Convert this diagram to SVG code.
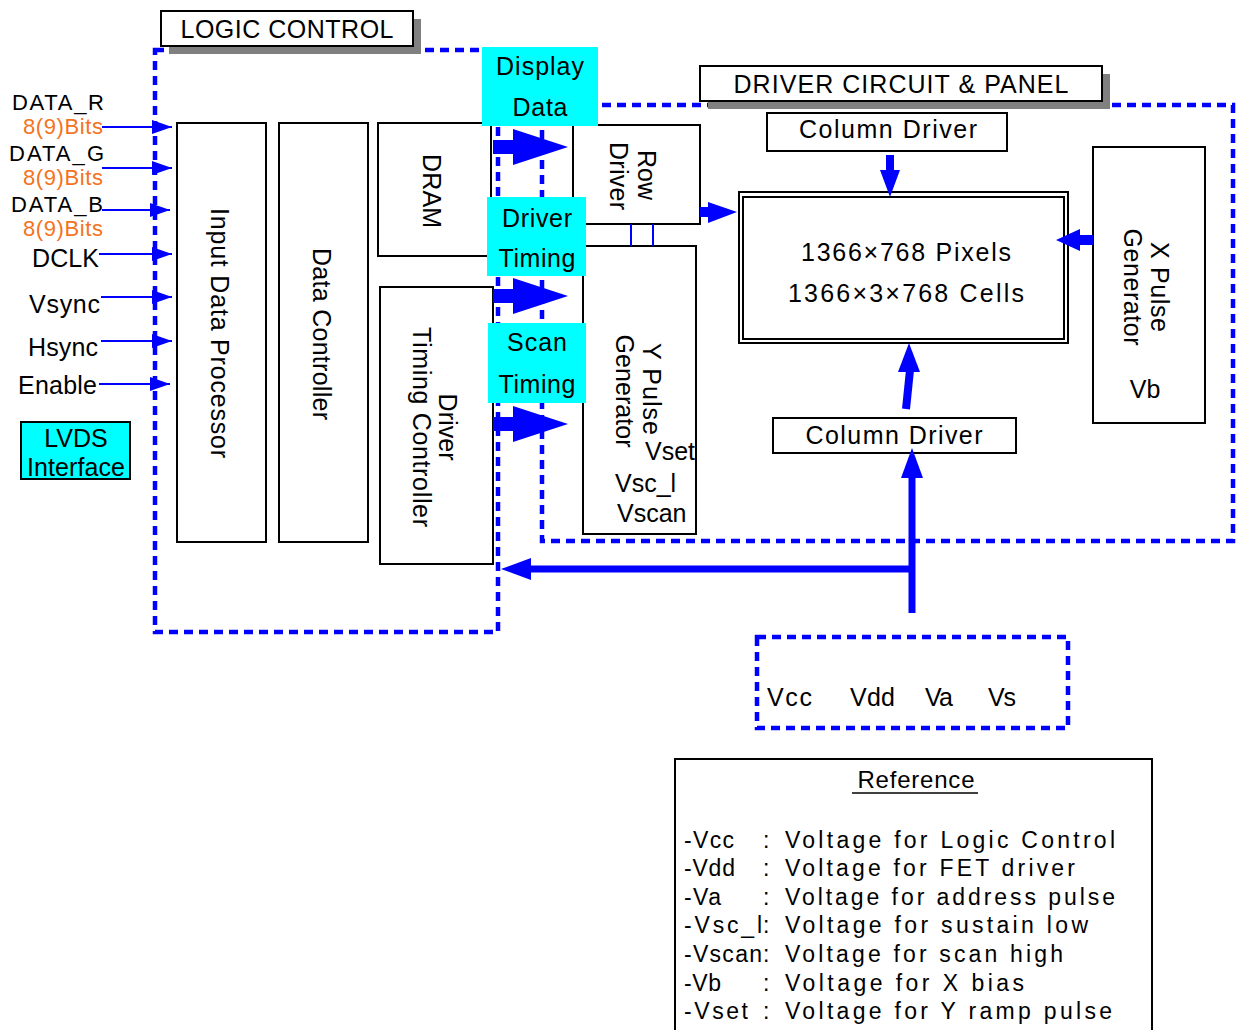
<svg xmlns="http://www.w3.org/2000/svg" width="1239" height="1030" viewBox="0 0 1239 1030">
<style>
.t{font-family:"Liberation Sans",Arial,sans-serif;font-size:25px;fill:#000}
.m{text-anchor:middle}
.e{text-anchor:end}
.box{fill:#fff;stroke:#000;stroke-width:2}
.dash{fill:none;stroke:#00f;stroke-width:4.5;stroke-dasharray:9 6}
.cyan{fill:#0ff}
.shadow{fill:#808080}
.thin{stroke:#00f;stroke-width:2;fill:none}
.blue{fill:#00f}
.or{fill:#F47321}
.sm{font-size:22px}
.ref{font-family:"Liberation Sans",Arial,sans-serif;font-size:23px;fill:#000}
</style>
<defs>
<marker id="ah" markerUnits="userSpaceOnUse" markerWidth="20" markerHeight="14" refX="20" refY="7" orient="auto">
<path d="M0,0 L20,7 L0,14 z" fill="#00f"/>
</marker>
</defs>
<rect width="1239" height="1030" fill="#fff"/>

<!-- logic control blocks -->
<g id="input-data-processor">
<rect class="box" x="177" y="123" width="89" height="419"/>
<text class="t m" transform="translate(220,333) rotate(90)" y="9" textLength="250">Input  Data  Processor</text>
</g>
<g id="data-controller">
<rect class="box" x="279" y="123" width="89" height="419"/>
<text class="t m" transform="translate(322,334) rotate(90)" y="9" textLength="172">Data  Controller</text>
</g>
<g id="dram">
<rect class="box" x="378" y="123" width="113" height="133"/>
<text class="t m" transform="translate(432,191) rotate(90)" y="9" textLength="74">DRAM</text>
</g>
<g id="driver-timing-controller">
<rect class="box" x="380" y="287" width="113" height="277"/>
<text class="t m" transform="translate(448,427) rotate(90)" y="9" textLength="67">Driver</text>
<text class="t m" transform="translate(422,427) rotate(90)" y="9" textLength="200">Timing  Controller</text>
</g>

<!-- driver circuit blocks -->
<g id="row-driver">
<rect class="box" x="573" y="125" width="127" height="99"/>
<text class="t m" transform="translate(647,175) rotate(90)" y="9" textLength="50">Row</text>
<text class="t m" transform="translate(619,176) rotate(90)" y="9" textLength="68">Driver</text>
</g>
<g id="y-pulse-generator">
<rect class="box" x="583" y="246" width="113" height="288"/>
<text class="t m" transform="translate(652,389) rotate(90)" y="9" textLength="92">Y  Pulse</text>
<text class="t m" transform="translate(625,391) rotate(90)" y="9" textLength="113">Generator</text>
<text class="t e" x="695" y="460">Vset</text>
<text class="t" x="615" y="492">Vsc_l</text>
<text class="t" x="617" y="522">Vscan</text>
</g>
<g id="panel">
<rect x="739" y="192" width="329" height="151" fill="#fff" stroke="#000" stroke-width="2"/>
<rect x="743" y="197" width="321" height="142" fill="none" stroke="#000" stroke-width="2"/>
<text class="t m" x="906" y="261" textLength="210">1366×768  Pixels</text>
<text class="t m" x="906" y="302" textLength="236">1366×3×768  Cells</text>
</g>
<g id="column-driver-top">
<rect class="box" x="767" y="113" width="240" height="38"/>
<text class="t m" x="888" y="138" textLength="178">Column  Driver</text>
</g>
<g id="column-driver-bottom">
<rect class="box" x="773" y="418" width="243" height="35"/>
<text class="t m" x="894" y="444" textLength="177">Column  Driver</text>
</g>
<g id="x-pulse-generator">
<rect class="box" x="1093" y="147" width="112" height="276"/>
<text class="t m" transform="translate(1160,287) rotate(90)" y="9" textLength="90">X  Pulse</text>
<text class="t m" transform="translate(1133,287) rotate(90)" y="9" textLength="117">Generator</text>
<text class="t m" x="1145" y="398">Vb</text>
</g>

<!-- dashed regions -->
<g id="regions">
<rect class="dash" x="155" y="50" width="343" height="582"/>
<rect class="dash" x="542" y="105" width="691" height="436"/>
</g>
<g id="power-supply">
<rect class="dash" x="757" y="637" width="311" height="91"/>
<text class="t" x="767" y="706" textLength="45">Vcc</text>
<text class="t" x="850" y="706" textLength="45">Vdd</text>
<text class="t" x="925" y="706" textLength="28">Va</text>
<text class="t" x="988" y="706" textLength="28">Vs</text>
</g>

<!-- connectors -->
<g id="connectors">
<line class="thin" x1="102" y1="127" x2="172" y2="127" marker-end="url(#ah)"/>
<line class="thin" x1="102" y1="168" x2="172" y2="168" marker-end="url(#ah)"/>
<line class="thin" x1="102" y1="210" x2="170" y2="210" marker-end="url(#ah)"/>
<line class="thin" x1="99" y1="254" x2="172" y2="254" marker-end="url(#ah)"/>
<line class="thin" x1="101" y1="297" x2="172" y2="297" marker-end="url(#ah)"/>
<line class="thin" x1="101" y1="341" x2="172" y2="341" marker-end="url(#ah)"/>
<line class="thin" x1="99" y1="384" x2="170" y2="384" marker-end="url(#ah)"/>
<polygon class="blue" points="493,140 513,140 513,129 568,147 513,165 513,154 493,154"/>
<polygon class="blue" points="493,289 513,289 513,278 568,296 513,314 513,303 493,303"/>
<polygon class="blue" points="493,417 513,417 513,406 568,424 513,442 513,431 493,431"/>
<line class="thin" x1="631" y1="224" x2="631" y2="246"/>
<line class="thin" x1="653" y1="224" x2="653" y2="246"/>
<polygon class="blue" points="700,207 708,207 708,202 737,212 708,223 708,217 700,217"/>
<polygon class="blue" points="886,155 894,155 894,170 900,170 890,197 880,170 886,170"/>
<polygon class="blue" points="1093,235 1080,235 1080,229 1056,240 1080,251 1080,245 1093,245"/>
<line x1="906" y1="409" x2="910" y2="370" stroke="#00f" stroke-width="8"/>
<polygon class="blue" points="898,372 920,372 909,343"/>
<line x1="912" y1="613" x2="912" y2="475" stroke="#00f" stroke-width="7"/>
<polygon class="blue" points="901,478 923,478 912,448"/>
<line x1="912" y1="569" x2="528" y2="569" stroke="#00f" stroke-width="7"/>
<polygon class="blue" points="531,558 531,580 501,569"/>
</g>

<!-- titles -->
<g id="logic-control-title">
<rect class="shadow" x="169" y="19" width="252" height="35"/>
<rect class="box" x="161" y="11" width="252" height="35"/>
<text class="t m" x="287" y="38" textLength="213">LOGIC  CONTROL</text>
</g>
<g id="driver-circuit-title">
<rect class="shadow" x="708" y="74" width="402" height="35"/>
<rect class="box" x="700" y="66" width="402" height="35"/>
<text class="t m" x="901" y="93" textLength="335">DRIVER  CIRCUIT  &amp;  PANEL</text>
</g>

<!-- cyan labels -->
<g id="display-data">
<rect class="cyan" x="482" y="47" width="116" height="79"/>
<text class="t m" x="540" y="75" textLength="88">Display</text>
<text class="t m" x="540" y="116" textLength="55">Data</text>
</g>
<g id="driver-timing">
<rect class="cyan" x="487" y="197" width="99" height="79"/>
<text class="t m" x="537" y="227" textLength="70">Driver</text>
<text class="t m" x="537" y="267" textLength="77">Timing</text>
</g>
<g id="scan-timing">
<rect class="cyan" x="488" y="323" width="98" height="80"/>
<text class="t m" x="537" y="351" textLength="60">Scan</text>
<text class="t m" x="537" y="393" textLength="77">Timing</text>
</g>

<!-- input labels -->
<g id="inputs">
<text class="t e sm" x="104" y="110" textLength="92">DATA_R</text>
<text class="t e or sm" x="103" y="134" textLength="80">8(9)Bits</text>
<text class="t e sm" x="104" y="161" textLength="95">DATA_G</text>
<text class="t e or sm" x="103" y="185" textLength="80">8(9)Bits</text>
<text class="t e sm" x="103" y="212" textLength="92">DATA_B</text>
<text class="t e or sm" x="103" y="236" textLength="80">8(9)Bits</text>
<text class="t e" x="99" y="267" textLength="67">DCLK</text>
<text class="t e" x="100" y="313" textLength="71">Vsync</text>
<text class="t e" x="98" y="356" textLength="70">Hsync</text>
<text class="t e" x="97" y="394" textLength="79">Enable</text>
</g>
<g id="lvds-interface">
<rect x="21" y="422" width="109" height="57" fill="#0ff" stroke="#000" stroke-width="2"/>
<text class="t m" x="76" y="447">LVDS</text>
<text class="t m" x="76" y="476" textLength="98">Interface</text>
</g>

<!-- reference -->
<g id="reference">
<rect x="675" y="759" width="477" height="290" fill="#fff" stroke="#000" stroke-width="2"/>
<text class="t m" x="916" y="788" style="font-size:24px" textLength="117">Reference</text>
<line x1="852" y1="793" x2="978" y2="793" stroke="#000" stroke-width="1.5"/>
<text class="ref" x="684" y="848" textLength="50">-Vcc</text>
<text class="ref" x="763" y="848">:</text>
<text class="ref" x="785" y="848" textLength="330">Voltage for Logic Control</text>
<text class="ref" x="684" y="876" textLength="51">-Vdd</text>
<text class="ref" x="763" y="876">:</text>
<text class="ref" x="785" y="876" textLength="290">Voltage for FET driver</text>
<text class="ref" x="684" y="905" textLength="37">-Va</text>
<text class="ref" x="763" y="905">:</text>
<text class="ref" x="785" y="905" textLength="330">Voltage for address pulse</text>
<text class="ref" x="684" y="933" textLength="78">-Vsc_l</text>
<text class="ref" x="763" y="933">:</text>
<text class="ref" x="785" y="933" textLength="303">Voltage for sustain low</text>
<text class="ref" x="684" y="962" textLength="78">-Vscan</text>
<text class="ref" x="763" y="962">:</text>
<text class="ref" x="785" y="962" textLength="278">Voltage for scan high</text>
<text class="ref" x="684" y="991" textLength="37">-Vb</text>
<text class="ref" x="763" y="991">:</text>
<text class="ref" x="785" y="991" textLength="239">Voltage for X bias</text>
<text class="ref" x="684" y="1019" textLength="64">-Vset</text>
<text class="ref" x="763" y="1019">:</text>
<text class="ref" x="785" y="1019" textLength="327">Voltage for Y ramp pulse</text>
</g>
</svg>
